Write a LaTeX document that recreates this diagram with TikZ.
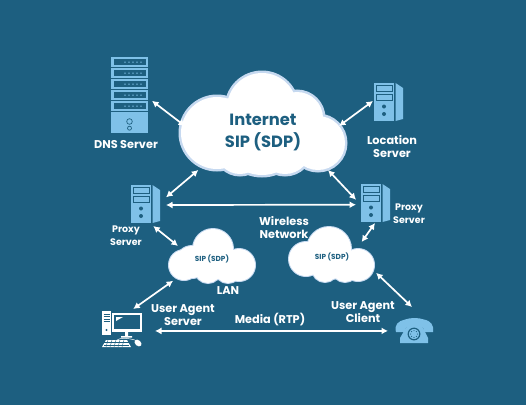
\documentclass[tikz,border=0pt]{standalone}
\usepackage{fontspec}
\setmainfont{Poppins}
\usepackage{tikz}
\usetikzlibrary{arrows.meta}
\definecolor{SipBack}{HTML}{1D5F80}
\definecolor{SipIcon}{HTML}{7FC1E8}
\definecolor{SipEdge}{HTML}{C6D9F0}
\newcommand{\cloudblob}[2]{%
  \foreach \cx/\cy/\cr in {#2} {\draw[SipEdge,line width=#1] (\cx,\cy) circle (\cr);}
  \foreach \cx/\cy/\cr in {#2} {\fill[white] (\cx,\cy) circle (\cr);}
}
\tikzset{
  towerpic/.pic={
    \fill[SipIcon] (0,0) rectangle (20,38);
    \fill[SipIcon] (21.5,0) -- (29,5) -- (29,36) -- (21.5,38) -- cycle;
    \draw[SipBack,fill=SipIcon,line width=0.7] (2,2.5) rectangle (18,8.5);
    \draw[SipBack,fill=SipIcon,line width=0.7] (2,11) rectangle (18,17);
    \fill[SipBack] (10,23.5) circle (2) (10,31) circle (2);
  },
  rackpic/.pic={
    \foreach \y in {0,11,22,33,44} {
      \fill[SipIcon] (0,\y) rectangle (37,\y+10.2);
      \fill[SipBack] (2.5,\y+2.2) rectangle (34.5,\y+8);
      \foreach \x in {14,18,22,26,30} {\fill[SipIcon] (\x,\y+5.1) circle (0.8);}
    }
    \fill[SipIcon] (0,55) rectangle (37,76);
    \draw[SipBack,line width=0.7] (18.5,64.5) circle (2.8) (18.5,71.2) circle (2);
  },
  pcpic/.pic={
    \fill[white] (0,0) rectangle (9,24);
    \foreach \y in {3,5.5,8,10.5} {\draw[SipBack,line width=0.4] (1.5,\y) -- (7.5,\y);}
    \fill[SipBack] (4.5,19) circle (1.2);
    \fill[white] (10,2) rectangle (40,21);
    \fill[SipBack] (12,4) rectangle (38,18);
    \fill[white] (14,10) -- (14,6) -- (21,6) -- cycle;
    \fill[white] (23,21) rectangle (26,25) (19,25) rectangle (30,26.5);
    \fill[white] (4,29) -- (25,29) -- (29,36) -- (0,36) -- cycle;
    \foreach \x in {6,10,14,18,22} {\draw[SipBack,line width=0.4] (\x,29) -- (\x-2,36);}
    \foreach \y in {31.5,33.8} {\draw[SipBack,line width=0.4] (2,\y) -- (27,\y);}
    \fill[white,rotate around={-40:(36,32)}] (36,32) ellipse (4 and 2.8);
    \draw[white,line width=0.5] (15,29) .. controls (18,26.5) and (26,27) .. (33,29);
  },
  phonepic/.pic={
    \fill[SipIcon] (1,14) .. controls (-1,7) and (3,3) .. (10,1.5) .. controls (16,-0.5) and (23,-0.5) .. (29,1.5) .. controls (36,3) and (39,7) .. (38,14) -- (29,14) -- (28,9) -- (11,9) -- (10,14) -- cycle;
    \fill[SipIcon] (12,8) -- (27,8) -- (33,20) -- (33,25) -- (5,25) -- (5,20) -- cycle;
    \draw[SipBack,line width=1.2] (19,16) circle (5.8);
    \foreach \a in {0,45,...,315} {\fill[SipBack] (19,16) ++(\a:3.4) circle (0.6);}
  }
}
\begin{document}
\begin{tikzpicture}[x=1pt,y=-1pt,
  hub/.style={inner sep=0pt,outer sep=0pt,minimum width=#1},
  link/.style={white,line width=1.7pt,{Latex[length=6.5pt,width=7pt]}-{Latex[length=6.5pt,width=7pt]}},
  bigtxt/.style={white,font=\bfseries\fontsize{11.3}{13}\selectfont,align=center,inner sep=0pt},
  smalltxt/.style={white,font=\bfseries\fontsize{9.5}{13}\selectfont,align=center,inner sep=0pt}]
\useasboundingbox[fill=SipBack] (0,0) rectangle (526,405);
% clouds
\cloudblob{5pt}{217/133/36,262/108/35,297/118/26,318/143/27,240/150/24,285/148/26,262/135/40,232/118/20}
\cloudblob{2pt}{184/265/15,192/262/16,213/249/20,239/265/16,208/270/13,228/270/13,212/262/18}
\cloudblob{2pt}{306/259/17,329/249/22,358/265/16,325/269/13,345/269/13,331/261/18}
% icons
\pic at (111,57) {rackpic};
\pic at (374,83) {towerpic};
\pic at (131,185) {towerpic};
\pic at (361,184) {towerpic};
\pic at (102,311) {pcpic};
\pic at (395,318) {phonepic};
% invisible hubs the arrows run between
\node[hub=48pt,minimum height=80pt](dns) at(128,97) {};
\node[hub=30pt,minimum height=40pt](loc) at(388,102) {};
\node[hub=40pt,minimum height=42pt](pxl) at(146,205) {};
\node[hub=40pt,minimum height=38pt](pxr) at(376,204) {};
\node[hub=54pt,minimum height=42pt](pc) at(128,330) {};
\node[hub=52pt,minimum height=46pt](tel) at(414,330) {};
\node[hub=154pt,minimum height=96pt](inet) at(262,122) {};
\node[hub=72pt,minimum height=38pt](lan) at(214,262) {};
\node[hub=90pt,minimum height=26pt](wlan) at(331,255) {};
% arrows
\draw[link] (dns.-9.5) -- (inet.183.7);
\draw[link] (loc.176) -- (inet.-3.7);
\draw[link] (pxl.21.8) -- (inet.217.3);
\draw[link] (pxr.168.7) -- (inet.-36);
\draw[link] (pxl.0) -- (pxr.182.9);
\draw[link] (pxl.-71.6) -- (lan.156);
\draw[link] (pxr.267) -- (wlan.23.4);
\draw[link,shorten >=6pt] (pc.76.6) -- (lan.203.3);
\draw[link,shorten >=7pt] (tel.95) -- (wlan.-18);
\draw[link] (pc.-2.1) -- (tel.182.2);
% labels
\node[SipBack,font=\bfseries\fontsize{16.3}{22}\selectfont,align=center,inner sep=0pt](inettxt) at(263,132) {Internet\\SIP (SDP)};
\node[SipBack,font=\bfseries\fontsize{7.3}{9}\selectfont,inner sep=0pt](lantxt) at(212,259) {SIP (SDP)};
\node[SipBack,font=\bfseries\fontsize{7.3}{9}\selectfont,inner sep=0pt](wlantxt) at(332,257) {SIP (SDP)};
\foreach \nm/\x/\y/\txt in {%
  t1/126/145/DNS Server,t2/392/147/Location\\Server,t3/284/228/Wireless\\Network,
  t4/228/291/LAN,t5/183/315.5/User Agent\\Server,t6/363/312.5/User Agent\\Client,t7/270/320/Media (RTP)} {
   \node[bigtxt](\nm) at(\x,\y) {\txt};
}
\node[smalltxt](t8) at(126,235.5) {Proxy\\Server};
\node[smalltxt](t9) at(409,213.5) {Proxy\\Server};
\end{tikzpicture}
\end{document}
